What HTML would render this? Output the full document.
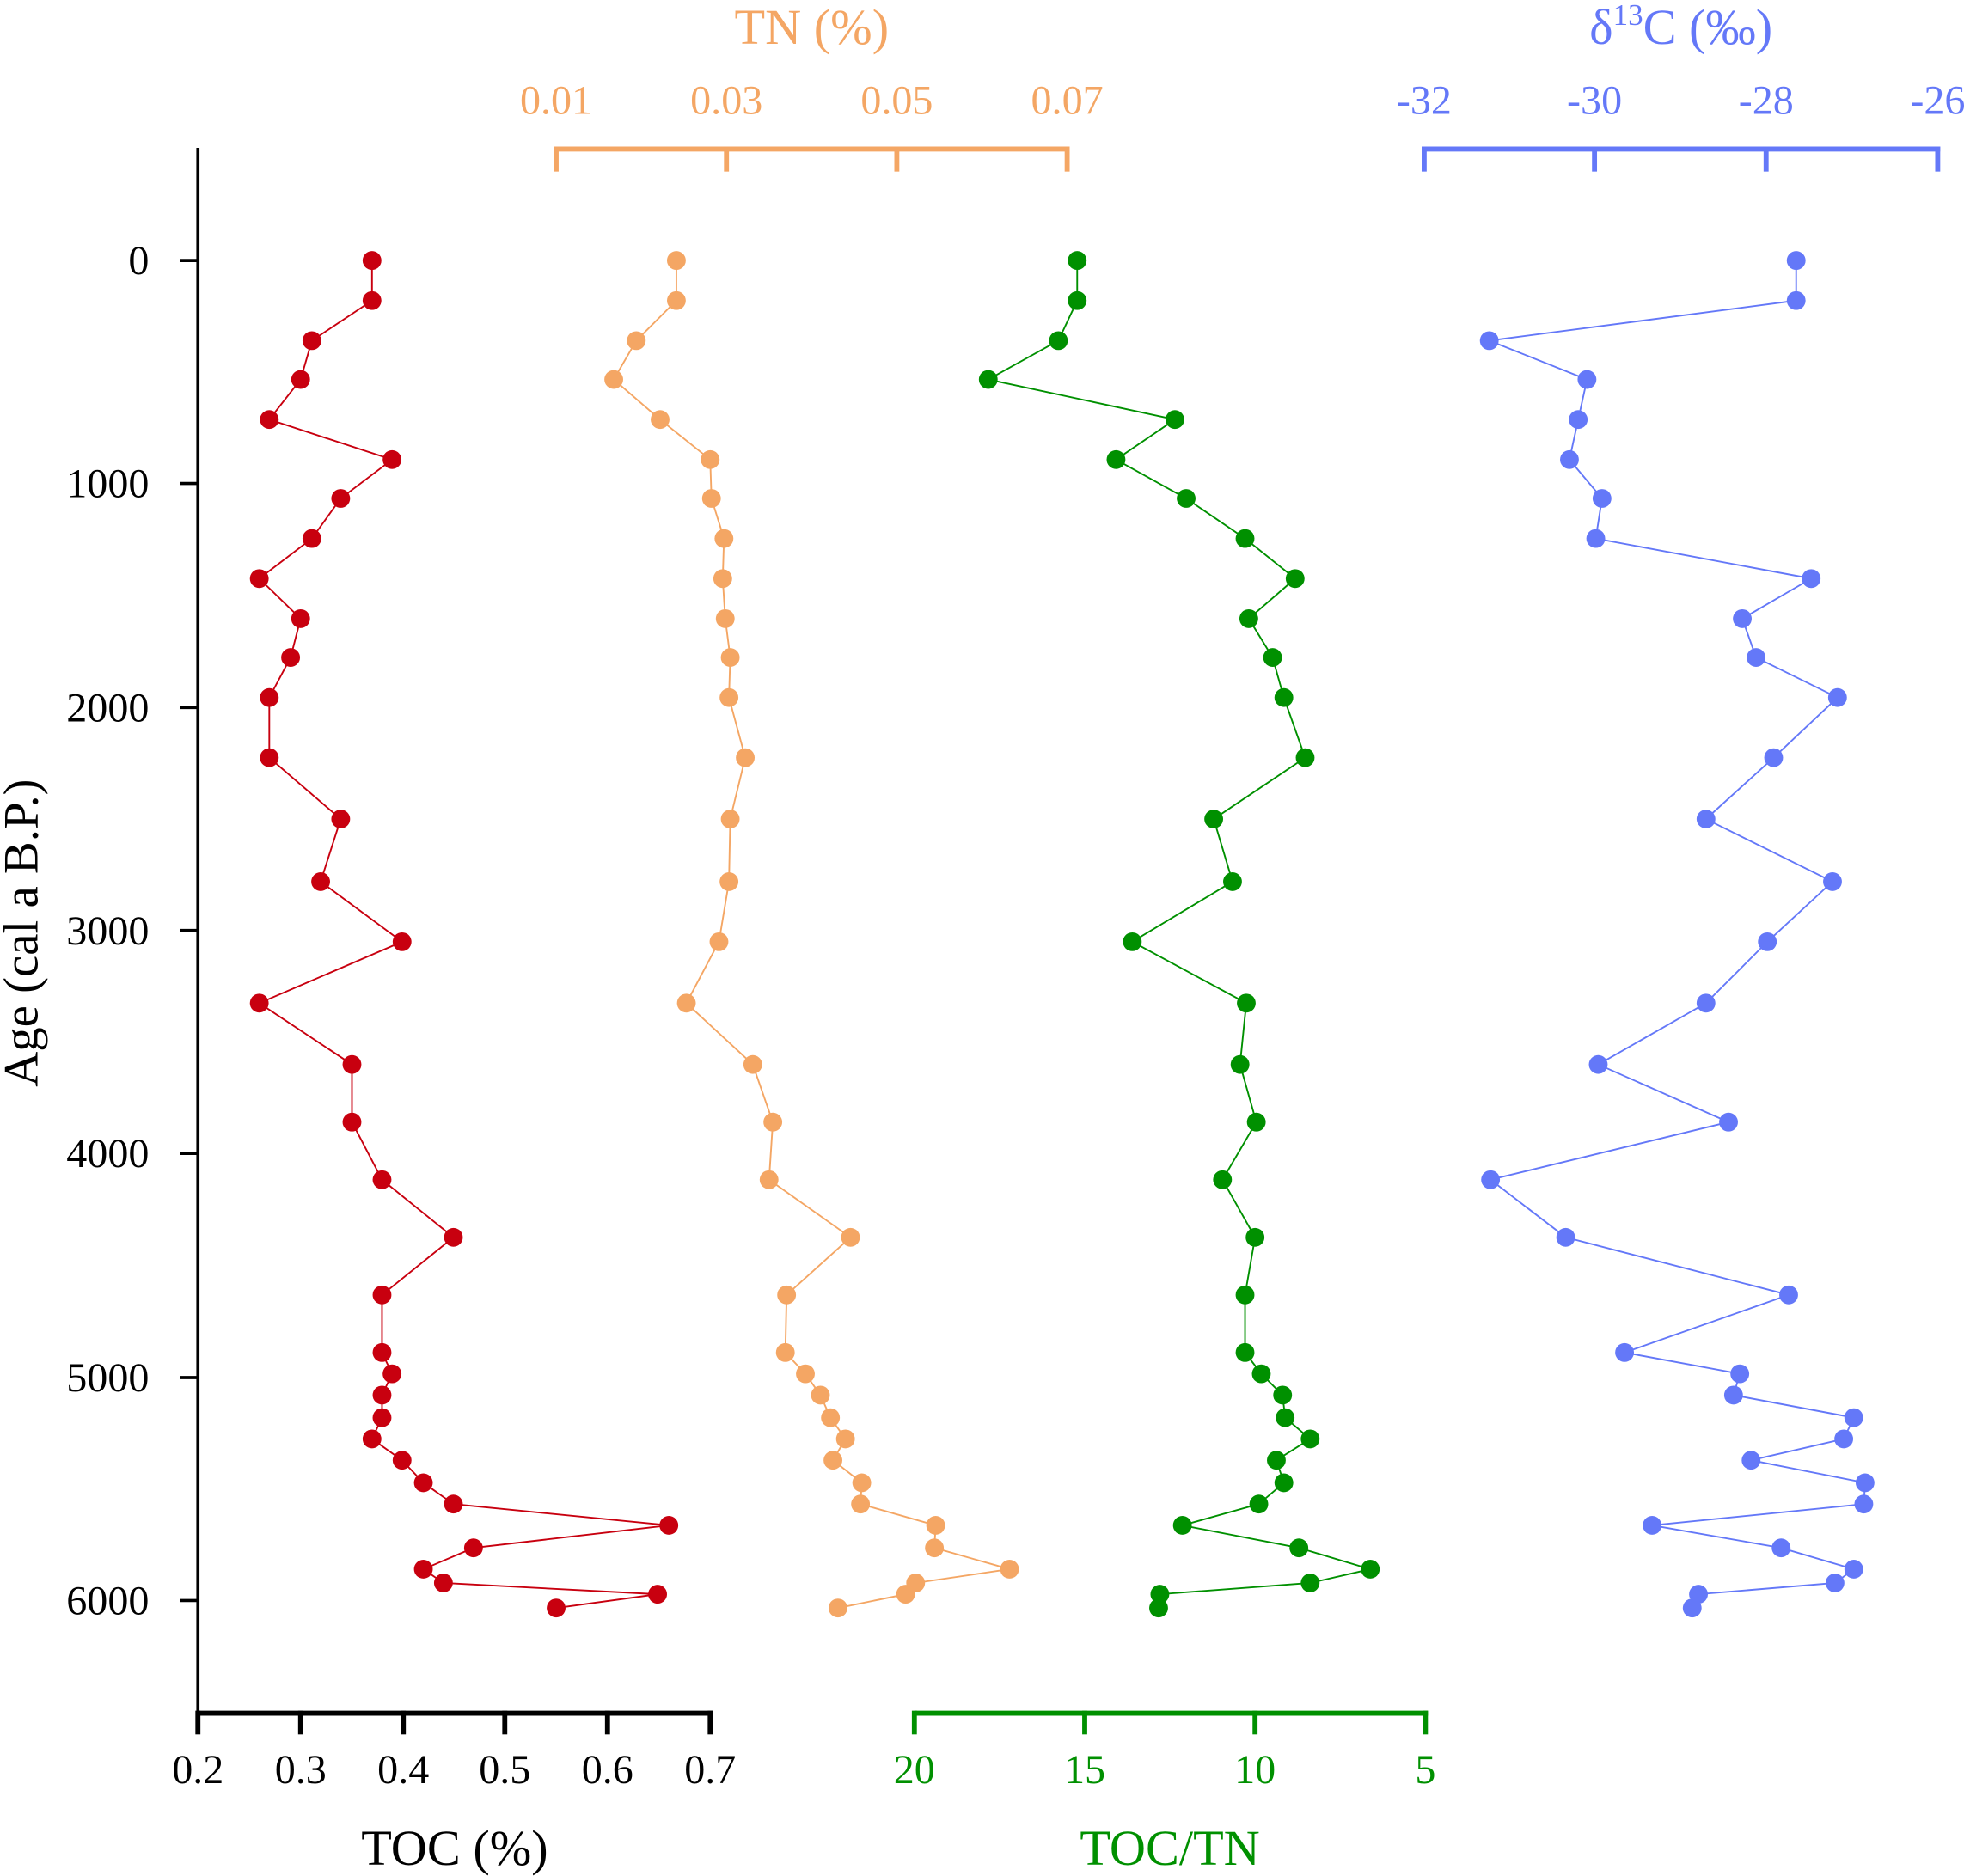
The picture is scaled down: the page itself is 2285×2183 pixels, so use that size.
<!DOCTYPE html>
<html><head><meta charset="utf-8"><style>html,body{margin:0;padding:0;background:#fff}svg{display:block}</style></head>
<body>
<svg width="2285" height="2183" viewBox="0 0 1568 1498" xmlns="http://www.w3.org/2000/svg" font-family="Liberation Serif, serif">
<rect width="1568" height="1498" fill="#fff"/>
<g stroke="#000" stroke-width="2.5" fill="none">
<line x1="158" y1="118" x2="158" y2="1369"/>
<line x1="158" y1="208" x2="144" y2="208"/><line x1="158" y1="386" x2="144" y2="386"/><line x1="158" y1="565" x2="144" y2="565"/><line x1="158" y1="743" x2="144" y2="743"/><line x1="158" y1="921" x2="144" y2="921"/><line x1="158" y1="1100" x2="144" y2="1100"/><line x1="158" y1="1278" x2="144" y2="1278"/>
</g>
<g font-size="33" text-anchor="end" fill="#000">
<text x="119" y="219">0</text><text x="119" y="397">1000</text><text x="119" y="576">2000</text><text x="119" y="754">3000</text><text x="119" y="932">4000</text><text x="119" y="1111">5000</text><text x="119" y="1289">6000</text>
</g>
<text transform="translate(30,745) rotate(-90)" font-size="39" text-anchor="middle">Age (cal a B.P.)</text>
<g stroke="#000" stroke-width="4" fill="none">
<line x1="158" y1="1368" x2="569" y2="1368"/>
<line x1="158" y1="1366" x2="158" y2="1385"/><line x1="240" y1="1366" x2="240" y2="1385"/><line x1="322" y1="1366" x2="322" y2="1385"/><line x1="403" y1="1366" x2="403" y2="1385"/><line x1="485" y1="1366" x2="485" y2="1385"/><line x1="567" y1="1366" x2="567" y2="1385"/>
</g>
<g font-size="33" text-anchor="middle" fill="#000">
<text x="158" y="1424">0.2</text><text x="240" y="1424">0.3</text><text x="322" y="1424">0.4</text><text x="403" y="1424">0.5</text><text x="485" y="1424">0.6</text><text x="567" y="1424">0.7</text>
<text x="363" y="1489" font-size="40">TOC (%)</text>
</g>
<g stroke="#009000" stroke-width="4" fill="none">
<line x1="730" y1="1368" x2="1140" y2="1368"/>
<line x1="730" y1="1366" x2="730" y2="1385"/><line x1="866" y1="1366" x2="866" y2="1385"/><line x1="1002" y1="1366" x2="1002" y2="1385"/><line x1="1138" y1="1366" x2="1138" y2="1385"/>
</g>
<g font-size="33" text-anchor="middle" fill="#009000">
<text x="730" y="1424">20</text><text x="866" y="1424">15</text><text x="1002" y="1424">10</text><text x="1138" y="1424">5</text>
<text x="934" y="1489" font-size="40">TOC/TN</text>
</g>
<g stroke="#f4a664" stroke-width="4" fill="none">
<line x1="442" y1="119" x2="854" y2="119"/>
<line x1="444" y1="117" x2="444" y2="137"/><line x1="580" y1="117" x2="580" y2="137"/><line x1="716" y1="117" x2="716" y2="137"/><line x1="852" y1="117" x2="852" y2="137"/>
</g>
<g font-size="33" text-anchor="middle" fill="#f4a664">
<text x="444" y="91">0.01</text><text x="580" y="91">0.03</text><text x="716" y="91">0.05</text><text x="852" y="91">0.07</text>
<text x="648" y="35" font-size="40">TN (%)</text>
</g>
<g stroke="#6478f8" stroke-width="4" fill="none">
<line x1="1135" y1="119" x2="1549" y2="119"/>
<line x1="1137" y1="117" x2="1137" y2="137"/><line x1="1273" y1="117" x2="1273" y2="137"/><line x1="1410" y1="117" x2="1410" y2="137"/><line x1="1547" y1="117" x2="1547" y2="137"/>
</g>
<g font-size="33" text-anchor="middle" fill="#6478f8">
<text x="1137" y="91">-32</text><text x="1273" y="91">-30</text><text x="1410" y="91">-28</text><text x="1547" y="91">-26</text>
<text x="1342" y="35" font-size="40">δ<tspan font-size="24" dy="-15">13</tspan><tspan dy="15">C (‰)</tspan></text>
</g>

<g fill="#c8000f">
<polyline fill="none" stroke="#c8000f" stroke-width="1.3" points="297,208 297,240 249,272 240,303 215,335 313,367 272,398 249,430 207,462 240,494 232,525 215,557 215,605 272,654 256,704 321,752 207,801 281,850 281,896 305,942 362,988 305,1034 305,1080 313,1097 305,1114 305,1132 297,1149 321,1166 338,1184 362,1201 534,1218 378,1236 338,1253 354,1264 525,1273 444,1284"/>
<circle cx="297" cy="208" r="7.5"/><circle cx="297" cy="240" r="7.5"/><circle cx="249" cy="272" r="7.5"/><circle cx="240" cy="303" r="7.5"/><circle cx="215" cy="335" r="7.5"/><circle cx="313" cy="367" r="7.5"/><circle cx="272" cy="398" r="7.5"/><circle cx="249" cy="430" r="7.5"/><circle cx="207" cy="462" r="7.5"/><circle cx="240" cy="494" r="7.5"/><circle cx="232" cy="525" r="7.5"/><circle cx="215" cy="557" r="7.5"/><circle cx="215" cy="605" r="7.5"/><circle cx="272" cy="654" r="7.5"/><circle cx="256" cy="704" r="7.5"/><circle cx="321" cy="752" r="7.5"/><circle cx="207" cy="801" r="7.5"/><circle cx="281" cy="850" r="7.5"/><circle cx="281" cy="896" r="7.5"/><circle cx="305" cy="942" r="7.5"/><circle cx="362" cy="988" r="7.5"/><circle cx="305" cy="1034" r="7.5"/><circle cx="305" cy="1080" r="7.5"/><circle cx="313" cy="1097" r="7.5"/><circle cx="305" cy="1114" r="7.5"/><circle cx="305" cy="1132" r="7.5"/><circle cx="297" cy="1149" r="7.5"/><circle cx="321" cy="1166" r="7.5"/><circle cx="338" cy="1184" r="7.5"/><circle cx="362" cy="1201" r="7.5"/><circle cx="534" cy="1218" r="7.5"/><circle cx="378" cy="1236" r="7.5"/><circle cx="338" cy="1253" r="7.5"/><circle cx="354" cy="1264" r="7.5"/><circle cx="525" cy="1273" r="7.5"/><circle cx="444" cy="1284" r="7.5"/>
</g>

<g fill="#f4a664">
<polyline fill="none" stroke="#f4a664" stroke-width="1.3" points="540,208 540,240 508,272 490,303 527,335 567,367 568,398 578,430 577,462 579,494 583,525 582,557 595,605 583,654 582,704 574,752 548,801 601,850 617,896 614,942 679,988 628,1034 627,1080 643,1097 655,1114 663,1132 675,1149 665,1166 688,1184 687,1201 747,1218 746,1236 806,1253 731,1264 723,1273 669,1284"/>
<circle cx="540" cy="208" r="7.5"/><circle cx="540" cy="240" r="7.5"/><circle cx="508" cy="272" r="7.5"/><circle cx="490" cy="303" r="7.5"/><circle cx="527" cy="335" r="7.5"/><circle cx="567" cy="367" r="7.5"/><circle cx="568" cy="398" r="7.5"/><circle cx="578" cy="430" r="7.5"/><circle cx="577" cy="462" r="7.5"/><circle cx="579" cy="494" r="7.5"/><circle cx="583" cy="525" r="7.5"/><circle cx="582" cy="557" r="7.5"/><circle cx="595" cy="605" r="7.5"/><circle cx="583" cy="654" r="7.5"/><circle cx="582" cy="704" r="7.5"/><circle cx="574" cy="752" r="7.5"/><circle cx="548" cy="801" r="7.5"/><circle cx="601" cy="850" r="7.5"/><circle cx="617" cy="896" r="7.5"/><circle cx="614" cy="942" r="7.5"/><circle cx="679" cy="988" r="7.5"/><circle cx="628" cy="1034" r="7.5"/><circle cx="627" cy="1080" r="7.5"/><circle cx="643" cy="1097" r="7.5"/><circle cx="655" cy="1114" r="7.5"/><circle cx="663" cy="1132" r="7.5"/><circle cx="675" cy="1149" r="7.5"/><circle cx="665" cy="1166" r="7.5"/><circle cx="688" cy="1184" r="7.5"/><circle cx="687" cy="1201" r="7.5"/><circle cx="747" cy="1218" r="7.5"/><circle cx="746" cy="1236" r="7.5"/><circle cx="806" cy="1253" r="7.5"/><circle cx="731" cy="1264" r="7.5"/><circle cx="723" cy="1273" r="7.5"/><circle cx="669" cy="1284" r="7.5"/>
</g>

<g fill="#009000">
<polyline fill="none" stroke="#009000" stroke-width="1.3" points="860,208 860,240 845,272 789,303 938,335 891,367 947,398 994,430 1034,462 997,494 1016,525 1025,557 1042,605 969,654 984,704 904,752 995,801 990,850 1003,896 976,942 1002,988 994,1034 994,1080 1007,1097 1024,1114 1026,1132 1046,1149 1019,1166 1025,1184 1005,1201 944,1218 1037,1236 1094,1253 1046,1264 926,1273 925,1284"/>
<circle cx="860" cy="208" r="7.5"/><circle cx="860" cy="240" r="7.5"/><circle cx="845" cy="272" r="7.5"/><circle cx="789" cy="303" r="7.5"/><circle cx="938" cy="335" r="7.5"/><circle cx="891" cy="367" r="7.5"/><circle cx="947" cy="398" r="7.5"/><circle cx="994" cy="430" r="7.5"/><circle cx="1034" cy="462" r="7.5"/><circle cx="997" cy="494" r="7.5"/><circle cx="1016" cy="525" r="7.5"/><circle cx="1025" cy="557" r="7.5"/><circle cx="1042" cy="605" r="7.5"/><circle cx="969" cy="654" r="7.5"/><circle cx="984" cy="704" r="7.5"/><circle cx="904" cy="752" r="7.5"/><circle cx="995" cy="801" r="7.5"/><circle cx="990" cy="850" r="7.5"/><circle cx="1003" cy="896" r="7.5"/><circle cx="976" cy="942" r="7.5"/><circle cx="1002" cy="988" r="7.5"/><circle cx="994" cy="1034" r="7.5"/><circle cx="994" cy="1080" r="7.5"/><circle cx="1007" cy="1097" r="7.5"/><circle cx="1024" cy="1114" r="7.5"/><circle cx="1026" cy="1132" r="7.5"/><circle cx="1046" cy="1149" r="7.5"/><circle cx="1019" cy="1166" r="7.5"/><circle cx="1025" cy="1184" r="7.5"/><circle cx="1005" cy="1201" r="7.5"/><circle cx="944" cy="1218" r="7.5"/><circle cx="1037" cy="1236" r="7.5"/><circle cx="1094" cy="1253" r="7.5"/><circle cx="1046" cy="1264" r="7.5"/><circle cx="926" cy="1273" r="7.5"/><circle cx="925" cy="1284" r="7.5"/>
</g>

<g fill="#6478f8">
<polyline fill="none" stroke="#6478f8" stroke-width="1.3" points="1434,208 1434,240 1189,272 1267,303 1260,335 1253,367 1279,398 1274,430 1446,462 1391,494 1402,525 1467,557 1416,605 1362,654 1463,704 1411,752 1362,801 1276,850 1380,896 1190,942 1250,988 1428,1034 1297,1080 1389,1097 1384,1114 1480,1132 1472,1149 1398,1166 1489,1184 1488,1201 1319,1218 1422,1236 1480,1253 1465,1264 1356,1273 1351,1284"/>
<circle cx="1434" cy="208" r="7.5"/><circle cx="1434" cy="240" r="7.5"/><circle cx="1189" cy="272" r="7.5"/><circle cx="1267" cy="303" r="7.5"/><circle cx="1260" cy="335" r="7.5"/><circle cx="1253" cy="367" r="7.5"/><circle cx="1279" cy="398" r="7.5"/><circle cx="1274" cy="430" r="7.5"/><circle cx="1446" cy="462" r="7.5"/><circle cx="1391" cy="494" r="7.5"/><circle cx="1402" cy="525" r="7.5"/><circle cx="1467" cy="557" r="7.5"/><circle cx="1416" cy="605" r="7.5"/><circle cx="1362" cy="654" r="7.5"/><circle cx="1463" cy="704" r="7.5"/><circle cx="1411" cy="752" r="7.5"/><circle cx="1362" cy="801" r="7.5"/><circle cx="1276" cy="850" r="7.5"/><circle cx="1380" cy="896" r="7.5"/><circle cx="1190" cy="942" r="7.5"/><circle cx="1250" cy="988" r="7.5"/><circle cx="1428" cy="1034" r="7.5"/><circle cx="1297" cy="1080" r="7.5"/><circle cx="1389" cy="1097" r="7.5"/><circle cx="1384" cy="1114" r="7.5"/><circle cx="1480" cy="1132" r="7.5"/><circle cx="1472" cy="1149" r="7.5"/><circle cx="1398" cy="1166" r="7.5"/><circle cx="1489" cy="1184" r="7.5"/><circle cx="1488" cy="1201" r="7.5"/><circle cx="1319" cy="1218" r="7.5"/><circle cx="1422" cy="1236" r="7.5"/><circle cx="1480" cy="1253" r="7.5"/><circle cx="1465" cy="1264" r="7.5"/><circle cx="1356" cy="1273" r="7.5"/><circle cx="1351" cy="1284" r="7.5"/>
</g>
</svg>
</body></html>
